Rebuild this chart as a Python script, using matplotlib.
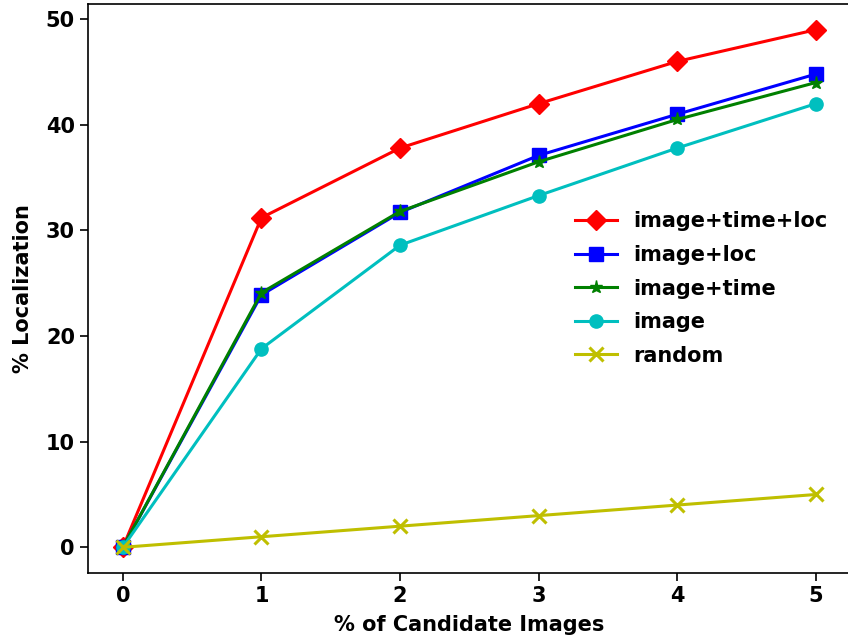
import numpy as np
import matplotlib
matplotlib.use('Agg')
import matplotlib.pyplot as plt

#Data
x = [0, 1, 2, 3, 4, 5]
image_time_loc = [0, 31.2, 37.8, 42.0, 46.0, 49.0]
image_loc = [0, 23.9, 31.7, 37.1, 41.0, 44.8]
image_time = [0, 24.1, 31.8, 36.5, 40.5, 44.0]
image_only = [0, 18.8, 28.6, 33.3, 37.8, 42.0]
random_sel = [0, 1, 2, 3, 4, 5]

plt.rcParams['font.weight'] = 'bold'
plt.rcParams['axes.labelweight'] = 'bold'
plt.rcParams['font.size'] = 15
plt.rcParams['xtick.major.size'] = 6
plt.rcParams['ytick.major.size'] = 6
plt.rcParams['xtick.major.width'] = 1.2
plt.rcParams['ytick.major.width'] = 1.2
plt.rcParams['axes.linewidth'] = 1.2

fig = plt.figure(figsize=(8.48, 6.39), dpi=100)
ax = fig.add_axes([0.104, 0.103, 0.899, 0.891])

ax.plot(x, image_time_loc, 'rD-', lw=2.2, ms=10.5, label='image+time+loc')
ax.plot(x, image_loc, 'bs-', lw=2.2, ms=9.5, label='image+loc')
ax.plot(x, image_time, 'g*-', lw=2.2, ms=9.5, label='image+time')
ax.plot(x, image_only, 'co-', lw=2.2, ms=9.5, label='image')
ax.plot(x, random_sel, 'yx-', lw=2.2, ms=9.5, mew=2.2, label='random')

ax.set_xlabel('% of Candidate Images', labelpad=6)
ax.set_ylabel('% Localization', labelpad=9)
ax.set_yticks([0, 10, 20, 30, 40, 50])
ax.legend(loc='center right', frameon=False, bbox_to_anchor=(0.995, 0.5),
          handlelength=2.0, labelspacing=0.65)

fig.savefig('out.png', dpi=100)
